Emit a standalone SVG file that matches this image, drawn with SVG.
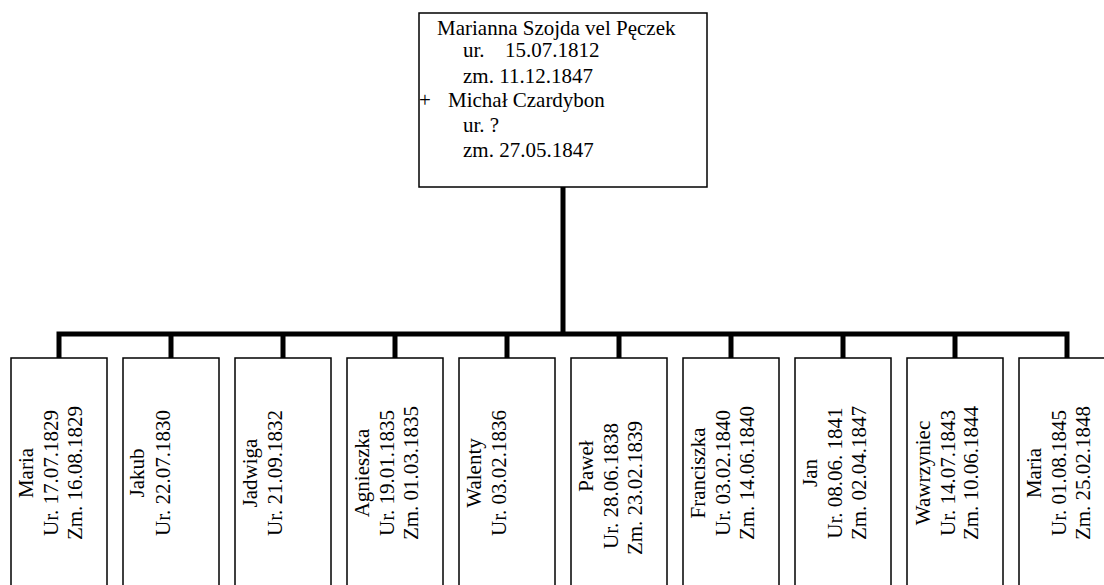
<svg xmlns="http://www.w3.org/2000/svg" width="1104" height="585" viewBox="0 0 1104 585">
<style>
.box{fill:#fff;stroke:#000;stroke-width:1.5}
.t{font-family:"Liberation Serif","Times New Roman",serif;font-size:21px;fill:#000}
.c{text-anchor:middle}
.conn{fill:none;stroke:#000;stroke-width:5;stroke-linejoin:miter;stroke-linecap:butt}
</style>
<rect width="1104" height="585" fill="#fff"/>
<g id="connectors">
<path class="conn" d="M563,187 V334"/>
<path class="conn" d="M59,359 V334 H1067 V359"/>
<path class="conn" d="M171,334 V359 M283,334 V359 M395,334 V359 M507,334 V359 M619,334 V359 M731,334 V359 M843,334 V359 M955,334 V359"/>
</g>
<g id="root">
<rect class="box" x="419" y="13" width="288" height="174"/>
<text class="t"><tspan x="437" y="35">Marianna Szojda vel Pęczek</tspan><tspan x="463" y="57">ur.</tspan><tspan x="505" y="57">15.07.1812</tspan><tspan x="463" y="83">zm. 11.12.1847</tspan><tspan x="419" y="107">+</tspan><tspan x="448" y="107">Michał Czardybon</tspan><tspan x="463" y="132">ur. ?</tspan><tspan x="463" y="157">zm. 27.05.1847</tspan></text>
</g>
<g id="c1"><rect class="box" x="11" y="358" width="96" height="240"/>
<text class="t c" transform="translate(33,473) rotate(-90)"><tspan x="0" y="0">Maria</tspan><tspan x="0" y="25">Ur. 17.07.1829</tspan><tspan x="0" y="49">Zm. 16.08.1829</tspan></text></g>
<g id="c2"><rect class="box" x="123" y="358" width="96" height="240"/>
<text class="t c" transform="translate(144,473) rotate(-90)"><tspan x="0" y="0">Jakub</tspan><tspan x="0" y="26">Ur. 22.07.1830</tspan></text></g>
<g id="c3"><rect class="box" x="235" y="358" width="96" height="240"/>
<text class="t c" transform="translate(257,473) rotate(-90)"><tspan x="0" y="0">Jadwiga</tspan><tspan x="0" y="25">Ur. 21.09.1832</tspan></text></g>
<g id="c4"><rect class="box" x="347" y="358" width="96" height="240"/>
<text class="t c" transform="translate(369,473) rotate(-90)"><tspan x="0" y="0">Agnieszka</tspan><tspan x="0" y="25">Ur. 19.01.1835</tspan><tspan x="0" y="49">Zm. 01.03.1835</tspan></text></g>
<g id="c5"><rect class="box" x="459" y="358" width="96" height="240"/>
<text class="t c" transform="translate(481,473) rotate(-90)"><tspan x="0" y="0">Walenty</tspan><tspan x="0" y="25">Ur. 03.02.1836</tspan></text></g>
<g id="c6"><rect class="box" x="571" y="358" width="96" height="240"/>
<text class="t c" transform="translate(593,0) rotate(-90)"><tspan x="-466" y="0">Paweł</tspan><tspan x="-486" y="25">Ur. 28.06.1838</tspan><tspan x="-488" y="49">Zm. 23.02.1839</tspan></text></g>
<g id="c7"><rect class="box" x="683" y="358" width="96" height="240"/>
<text class="t c" transform="translate(705,473) rotate(-90)"><tspan x="0" y="0">Franciszka</tspan><tspan x="0" y="25">Ur. 03.02.1840</tspan><tspan x="0" y="49">Zm. 14.06.1840</tspan></text></g>
<g id="c8"><rect class="box" x="795" y="358" width="96" height="240"/>
<text class="t c" transform="translate(817,473) rotate(-90)"><tspan x="0" y="0">Jan</tspan><tspan x="0" y="25">Ur. 08.06. 1841</tspan><tspan x="0" y="49">Zm. 02.04.1847</tspan></text></g>
<g id="c9"><rect class="box" x="907" y="358" width="96" height="240"/>
<text class="t c" transform="translate(930,473) rotate(-90)"><tspan x="0" y="0">Wawrzyniec</tspan><tspan x="0" y="25">Ur. 14.07.1843</tspan><tspan x="0" y="48">Zm. 10.06.1844</tspan></text></g>
<g id="c10"><rect class="box" x="1019" y="358" width="96" height="240"/>
<text class="t c" transform="translate(1041,473) rotate(-90)"><tspan x="0" y="0">Maria</tspan><tspan x="0" y="25">Ur. 01.08.1845</tspan><tspan x="0" y="49">Zm. 25.02.1848</tspan></text></g>
</svg>
